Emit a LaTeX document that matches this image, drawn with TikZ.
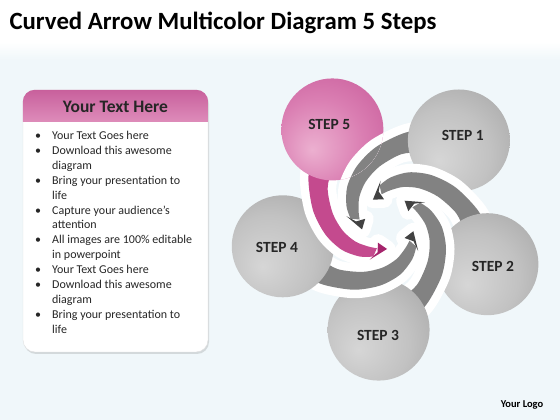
\documentclass[tikz,border=0pt]{standalone}
\usepackage{fontspec}
\setmainfont{Carlito}
\usetikzlibrary{positioning,shadows}

\definecolor{bgblue}{RGB}{240,247,250}
\definecolor{hdpink}{RGB}{222,140,186}
\definecolor{hdpinkdark}{RGB}{200,96,156}
\definecolor{bandgrey}{RGB}{130,130,130}
\definecolor{headgrey}{RGB}{66,66,66}
\definecolor{bandpink}{RGB}{196,74,142}
\definecolor{headpink}{RGB}{165,36,108}
\definecolor{ballhi}{RGB}{214,214,214}
\definecolor{ballmid}{RGB}{194,194,194}
\definecolor{ballrim}{RGB}{156,156,156}
\definecolor{pinkhi}{RGB}{236,176,208}
\definecolor{pinkmid}{RGB}{218,126,178}
\definecolor{pinkrim}{RGB}{194,80,146}

\pgfdeclareradialshading{greyball}{\pgfpoint{-10bp}{-10bp}}{color(0bp)=(ballhi); color(22bp)=(ballmid); color(48bp)=(ballrim); color(70bp)=(ballrim)}
\pgfdeclareradialshading{pinkball}{\pgfpoint{-10bp}{-10bp}}{color(0bp)=(pinkhi); color(22bp)=(pinkmid); color(48bp)=(pinkrim); color(70bp)=(pinkrim)}

% tail and arrow head, seen from its own circle at (0:108)
\newcommand{\tailpath}{plot[smooth] coordinates {(0:114) (15:103) (30:91) (50:76) (70:64) (90:54) (110:44.5) (126:37.5)}
  -- plot[smooth] coordinates {(126:28.5) (110:31.5) (90:38) (70:46) (50:56) (30:69) (15:77) (0:86)} -- cycle}
\newcommand{\tailhead}{(147:27) -- (123:42) -- (130:32) -- (123:23) -- cycle}

\begin{document}
\begin{tikzpicture}[x=1pt,y=1pt,
    ball/.style={circle,minimum size=102pt,inner sep=0pt,shade},
    steplabel/.style={font=\fontsize{15.5}{18}\selectfont\bfseries,text=black!85},
    halo/.style={draw=white,fill=white,line width=17pt,line join=round},
    panel/.style={rectangle,rounded corners=12pt,minimum width=185pt,minimum height=262pt,
      fill=white,draw=black!12,drop shadow={opacity=0.25,shadow xshift=1pt,shadow yshift=-2pt}}]
    \useasboundingbox (0,0) rectangle (560,420);
    \fill[bgblue] (0,0) rectangle (560,360);
    \shade[top color=white,bottom color=bgblue] (0,378) rectangle (560,360);

    \node(title)[anchor=base west,font=\fontsize{24.8}{28}\selectfont\bfseries] at (6,390) {Curved Arrow Multicolor Diagram 5 Steps};

    % text box on the left
    \node(box)[panel] at (115.5,199) {};
    \begin{scope}
        \clip[rounded corners=12pt] (box.south west) rectangle (box.north east);
        \shade[top color=hdpinkdark,bottom color=hdpink] (box.north west) rectangle ([yshift=-32pt]box.north east);
    \end{scope}
    \node(hd)[font=\fontsize{17.5}{20}\selectfont\bfseries,text=black!85] at ([yshift=-17pt]box.north) {Your Text Here};
    \node(list)[anchor=north west,align=left,inner sep=0pt,text=black!85,font=\fontsize{12}{14.9}\selectfont] at (35,289) {%
        \makebox[17pt][l]{\textbullet}Your Text Goes here\\
        \makebox[17pt][l]{\textbullet}Download this awesome\\
        \hspace*{17pt}diagram\\
        \makebox[17pt][l]{\textbullet}Bring your presentation to\\
        \hspace*{17pt}life\\
        \makebox[17pt][l]{\textbullet}Capture your audience’s\\
        \hspace*{17pt}attention\\
        \makebox[17pt][l]{\textbullet}All images are 100\% editable\\
        \hspace*{17pt}in powerpoint\\
        \makebox[17pt][l]{\textbullet}Your Text Goes here\\
        \makebox[17pt][l]{\textbullet}Download this awesome\\
        \hspace*{17pt}diagram\\
        \makebox[17pt][l]{\textbullet}Bring your presentation to\\
        \hspace*{17pt}life};

    % pinwheel
    \coordinate(ctr) at (388,198);
    \foreach \ang/\n/\ballshade/\bandcol/\headcol in {49/1/greyball/bandgrey/headgrey,
        -23/2/greyball/bandgrey/headgrey,-95/3/greyball/bandgrey/headgrey,
        -167/4/greyball/bandgrey/headgrey,121/5/pinkball/bandpink/headpink}{
        \begin{scope}[shift={(ctr)},rotate=\ang]
            \path[halo] \tailpath \tailhead;
            \fill[\bandcol] \tailpath;
            \fill[\headcol] \tailhead;
        \end{scope}
        \node(s\n)[ball,shading=\ballshade] at ([shift={(\ang:108)}]ctr) {};
    }
    % tail of step 1 runs over step 5
    \begin{scope}
        \clip (s5.center) circle (51);
        \begin{scope}[shift={(ctr)},rotate=49]
            \path[halo] \tailpath;
            \fill[bandgrey] \tailpath;
        \end{scope}
    \end{scope}

    \node(l1)[steplabel] at ([shift={(49:114)}]ctr) {STEP 1};
    \node(l2)[steplabel] at ([shift={(-23:114)}]ctr) {STEP 2};
    \node(l3)[steplabel] at ([shift={(-95:114)}]ctr) {STEP 3};
    \node(l4)[steplabel] at ([shift={(-167:114)}]ctr) {STEP 4};
    \node(l5)[steplabel] at ([shift={(121:114)}]ctr) {STEP 5};

    \node(logo)[font=\fontsize{10.5}{12}\selectfont\bfseries] at (522,15) {Your Logo};
\end{tikzpicture}
\end{document}
